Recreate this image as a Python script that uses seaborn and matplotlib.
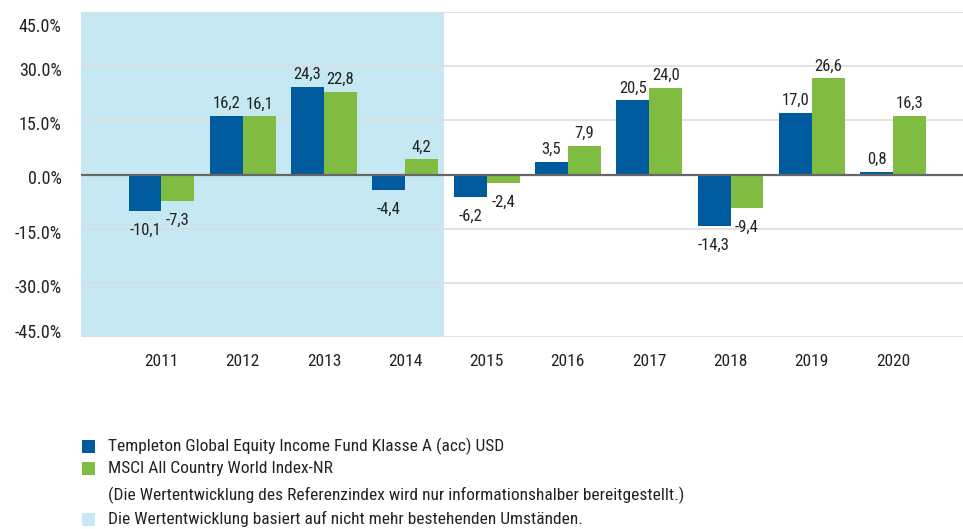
import matplotlib
matplotlib.use("Agg")
import matplotlib.pyplot as plt
from matplotlib.patches import Rectangle
from matplotlib.transforms import ScaledTranslation
import seaborn as sns
import pandas as pd

years = ["2011", "2012", "2013", "2014", "2015", "2016", "2017", "2018", "2019", "2020"]
fund = [-10.1, 16.2, 24.3, -4.4, -6.2, 3.5, 20.5, -14.3, 17.0, 0.8]
index = [-7.3, 16.1, 22.8, 4.2, -2.4, 7.9, 24.0, -9.4, 26.6, 16.3]
series_names = ["Templeton Global Equity Income Fund Klasse A (acc) USD",
                "MSCI All Country World Index-NR"]
yticks = [-45, -30, -15, 0, 15, 30, 45]
note_index = "(Die Wertentwicklung des Referenzindex wird nur informationshalber bereitgestellt.)"
note_shade = "Die Wertentwicklung basiert auf nicht mehr bestehenden Umständen."

BLUE = "#005A9E"
GREEN = "#80BC41"
SHADE = "#C5E8F3"

df = pd.DataFrame({
    "year": years * 2,
    "value": fund + index,
    "series": [series_names[0]] * len(years) + [series_names[1]] * len(years),
})

sns.set_theme(style="white")
plt.rcParams["font.family"] = ["Roboto Condensed", "Liberation Sans", "DejaVu Sans"]

fig = plt.figure(figsize=(9.63, 5.29), dpi=100)
ax = fig.add_axes([81 / 963, 1 - 337 / 529, 1 - 81 / 963, 325 / 529])

ax.axvspan(-0.99, 3.47, color=SHADE, zorder=0, lw=0)

sns.barplot(data=df, x="year", y="value", hue="series", order=years,
            hue_order=series_names, palette=[BLUE, GREEN], width=0.81,
            saturation=1, ax=ax, legend=False, zorder=3, linewidth=0)

for cont, vals in zip(ax.containers, [fund, index]):
    pos = [f"{v:.1f}".replace(".", ",") if v >= 0 else "" for v in vals]
    neg = [f"{v:.1f}".replace(".", ",") if v < 0 else "" for v in vals]
    ax.bar_label(cont, labels=pos, padding=3.5, fontsize=12, color="#222222")
    ax.bar_label(cont, labels=neg, padding=8.5, fontsize=12, color="#222222")

ax.set_xlim(-0.99, 9.86)
ax.set_ylim(-45, 45)
ax.set_yticks(yticks)
ax.set_yticklabels([f"{t:.1f}%" for t in yticks], fontsize=13, color="#222222")
ax.tick_params(axis="x", labelsize=12.5, colors="#222222", length=0, pad=12)
ax.tick_params(axis="y", length=0, pad=14)
# label offsets as in the reference (extreme labels pulled inward)
offsets_px = {-45: 6, -30: -3, -15: -3, 0: -2, 15: -3, 30: -3, 45: -13}
for t, lab in zip(yticks, ax.get_yticklabels()):
    dy = offsets_px[t] / 100
    lab.set_transform(lab.get_transform() + ScaledTranslation(0, dy, fig.dpi_scale_trans))
ax.set_xlabel("")
ax.set_ylabel("")
for t in yticks:
    if t != 0:
        ax.axhline(t, color="#DDDDDD", lw=1.2, zorder=1)
ax.axhline(0, color="#666666", lw=1.6, zorder=4)
for s in ax.spines.values():
    s.set_visible(False)

# legend
def legend_row(y_px, color, text):
    if color is not None:
        fig.add_artist(Rectangle((82 / 963, 1 - (y_px + 6.5) / 529), 13 / 963, 13 / 529,
                                 transform=fig.transFigure, color=color, lw=0))
    fig.text(108 / 963, 1 - y_px / 529, text, fontsize=12.5, va="center", ha="left",
             color="#222222")

legend_row(446, BLUE, series_names[0])
legend_row(468, GREEN, series_names[1])
legend_row(495, None, note_index)
legend_row(519, SHADE, note_shade)

fig.savefig("out.png", dpi=100)
